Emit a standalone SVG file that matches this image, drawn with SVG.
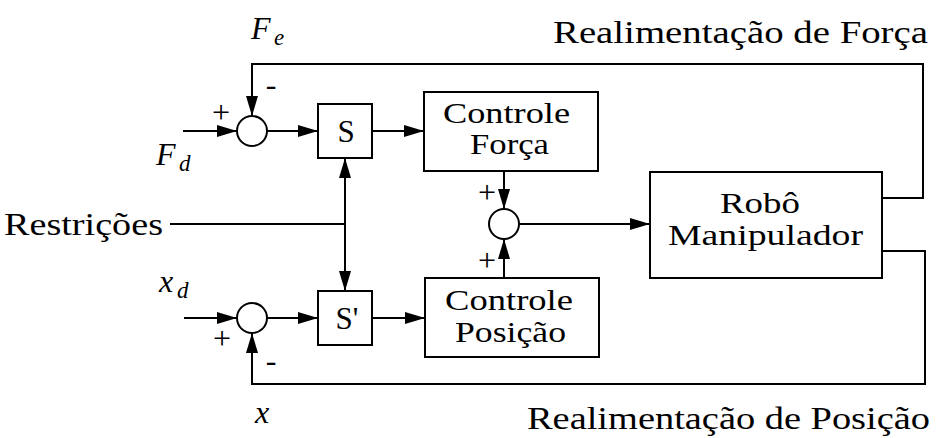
<svg xmlns="http://www.w3.org/2000/svg" width="937" height="438" viewBox="0 0 937 438">
<defs>
<marker id="ah" markerUnits="userSpaceOnUse" markerWidth="20" markerHeight="12" refX="20" refY="6" orient="auto">
<path d="M0,0 L20,6 L0,12 z" fill="#000"/>
</marker>
</defs>
<rect width="937" height="438" fill="#fff"/>
<g id="connectors" fill="none" stroke="#000" stroke-width="2">
<line marker-end="url(#ah)" x1="183" y1="131" x2="237" y2="131"/>
<polyline marker-end="url(#ah)" points="882,198 923,198 923,64 252,64 252,116"/>
<line marker-end="url(#ah)" x1="267" y1="131" x2="318" y2="131"/>
<line marker-end="url(#ah)" x1="372" y1="131" x2="424" y2="131"/>
<line marker-end="url(#ah)" x1="504" y1="171" x2="504" y2="209"/>
<line marker-end="url(#ah)" x1="504" y1="278" x2="504" y2="239"/>
<line marker-end="url(#ah)" x1="519" y1="224" x2="650" y2="224"/>
<line x1="170" y1="224" x2="345" y2="224"/>
<line marker-end="url(#ah)" x1="345" y1="224" x2="345" y2="158"/>
<line marker-end="url(#ah)" x1="345" y1="224" x2="345" y2="291"/>
<line marker-end="url(#ah)" x1="184" y1="318" x2="237" y2="318"/>
<line marker-end="url(#ah)" x1="267" y1="318" x2="318" y2="318"/>
<line marker-end="url(#ah)" x1="372" y1="318" x2="425" y2="318"/>
<polyline marker-end="url(#ah)" points="882,251 925,251 925,384 252,384 252,333"/>
</g>
<g stroke="#000" stroke-width="2" fill="#fff">
<g id="sum1"><circle cx="252" cy="131" r="15"/></g>
<g id="sum2"><circle cx="504" cy="224" r="15"/></g>
<g id="sum3"><circle cx="252" cy="318" r="15"/></g>
<g id="S"><rect x="318" y="104" width="54" height="54"/><text x="346" y="142" text-anchor="middle" font-family="Liberation Serif" font-size="31" fill="#000" stroke="none">S</text></g>
<g id="Sp"><rect x="318" y="291" width="54" height="54"/><text x="347" y="329" text-anchor="middle" font-family="Liberation Serif" font-size="31" fill="#000" stroke="none">S'</text></g>
<g id="controleForca"><rect x="424" y="92" width="174" height="79"/>
<text x="443" y="123" font-family="Liberation Serif" font-size="30" fill="#000" stroke="none" textLength="127" lengthAdjust="spacingAndGlyphs">Controle</text>
<text x="470" y="154" font-family="Liberation Serif" font-size="30" fill="#000" stroke="none" textLength="79" lengthAdjust="spacingAndGlyphs">Força</text></g>
<g id="controlePosicao"><rect x="425" y="278" width="174" height="79"/>
<text x="445" y="310" font-family="Liberation Serif" font-size="30" fill="#000" stroke="none" textLength="128" lengthAdjust="spacingAndGlyphs">Controle</text>
<text x="455" y="342" font-family="Liberation Serif" font-size="30" fill="#000" stroke="none" textLength="111" lengthAdjust="spacingAndGlyphs">Posição</text></g>
<g id="robo"><rect x="650" y="172" width="232" height="106"/>
<text x="720" y="213" font-family="Liberation Serif" font-size="30" fill="#000" stroke="none" textLength="80" lengthAdjust="spacingAndGlyphs">Robô</text>
<text x="668" y="245" font-family="Liberation Serif" font-size="30" fill="#000" stroke="none" textLength="195" lengthAdjust="spacingAndGlyphs">Manipulador</text></g>
</g>
<g id="labels" fill="#000">
<text x="553" y="43" font-family="Liberation Serif" font-size="32" textLength="375" lengthAdjust="spacingAndGlyphs">Realimentação de Força</text>
<text x="527" y="429" font-family="Liberation Serif" font-size="32" textLength="403" lengthAdjust="spacingAndGlyphs">Realimentação de Posição</text>
<text x="4" y="235" font-family="Liberation Serif" font-size="32" textLength="159" lengthAdjust="spacingAndGlyphs">Restrições</text>
<text x="251" y="39" font-family="Liberation Serif" font-style="italic" font-size="32">F</text><text x="274" y="45" font-family="Liberation Serif" font-style="italic" font-size="23">e</text>
<text x="156" y="165" font-family="Liberation Serif" font-style="italic" font-size="32">F</text><text x="179" y="171" font-family="Liberation Serif" font-style="italic" font-size="23">d</text>
<text x="159" y="292" font-family="Liberation Serif" font-style="italic" font-size="32">x</text><text x="177" y="298" font-family="Liberation Serif" font-style="italic" font-size="23">d</text>
<text x="255" y="423" font-family="Liberation Serif" font-style="italic" font-size="32">x</text>
<text x="221" y="123" font-family="Liberation Serif" font-size="32" text-anchor="middle">+</text>
<text x="271" y="95" font-family="Liberation Serif" font-size="32" text-anchor="middle">-</text>
<text x="487" y="203" font-family="Liberation Serif" font-size="32" text-anchor="middle">+</text>
<text x="487" y="271" font-family="Liberation Serif" font-size="32" text-anchor="middle">+</text>
<text x="222" y="349" font-family="Liberation Serif" font-size="32" text-anchor="middle">+</text>
<text x="271" y="371" font-family="Liberation Serif" font-size="32" text-anchor="middle">-</text>
</g>
</svg>
